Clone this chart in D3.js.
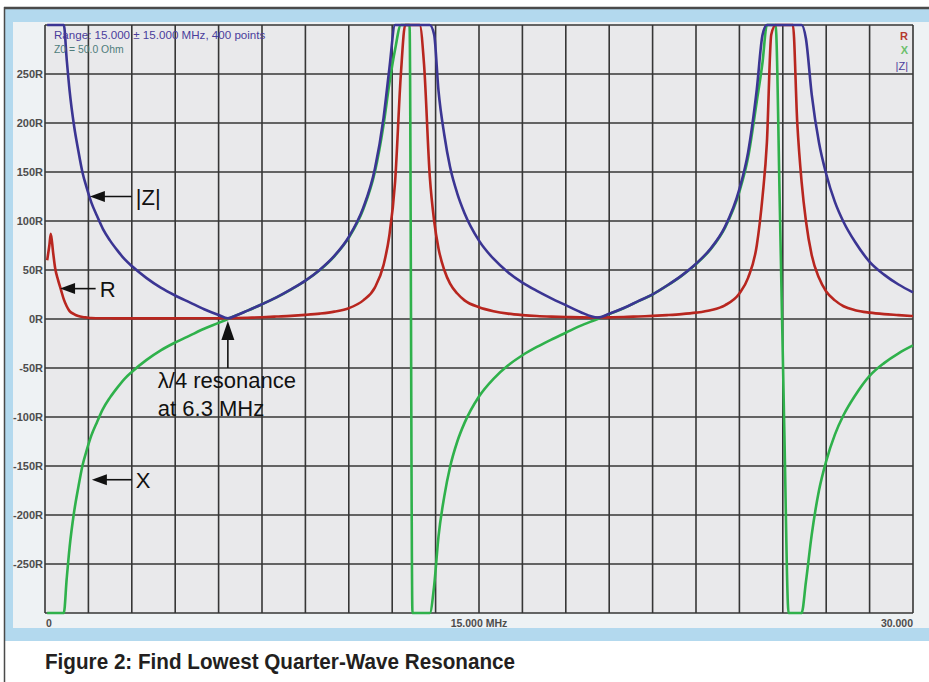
<!DOCTYPE html>
<html>
<head>
<meta charset="utf-8">
<script src="https://cdn.jsdelivr.net/npm/d3@7"></script>
<style>
  body { margin: 0; background: #fff; }
  svg { display: block; font-family: "Liberation Sans", Arial, sans-serif; }
</style>
</head>
<body>
<svg id="chart" width="929" height="682"></svg>
<script>
// sweep frequencies (MHz), denser around the resonances
const freqMHz = [
  0.075, 0.15, 0.2, 0.28, 0.35, 0.45, 0.55, 0.65, 0.75, 0.85,
  1.0, 1.15, 1.3, 1.45, 1.6, 1.8, 2.0, 2.25, 2.5, 2.75,
  3.0, 3.5, 4.0, 4.5, 5.0, 5.5, 6.0, 6.32, 6.6, 7.0,
  7.5, 8.0, 8.5, 9.0, 9.5, 10.0, 10.5, 11.0, 11.4, 11.7,
  11.9, 12.1, 12.3, 12.45, 12.6, 12.7, 12.8, 12.95, 13.1, 13.3,
  13.45, 13.6, 13.8, 14.0, 14.25, 14.5, 15.0, 15.5, 16.0, 16.5,
  17.0, 17.5, 18.0, 18.5, 19.1, 19.5, 20.0, 20.5, 21.0, 21.5,
  22.0, 22.5, 23.0, 23.5, 24.0, 24.3, 24.6, 24.8, 24.95, 25.1,
  25.25, 25.4, 25.55, 25.7, 25.85, 26.0, 26.15, 26.3, 26.5, 26.75,
  27.0, 27.3, 27.6, 28.0, 28.5, 29.0, 29.5, 30.0
];

// resistance R (ohm)
const rOhm = [
  60, 75, 87, 68, 52, 40, 30, 20, 13, 8,
  5, 3, 2, 1.5, 1, 0.8, 0.7, 0.7, 0.6, 0.6,
  0.6, 0.6, 0.6, 0.6, 0.7, 0.7, 0.8, 0.8, 1, 1.3,
  1.8, 2.5, 3.2, 4.2, 5.5, 7.5, 11, 19, 32, 55,
  85, 140, 250, 400, 560, 620, 570, 420, 260, 145,
  100, 72, 50, 36, 26, 19, 12, 8, 5.5, 4,
  3, 2.4, 2, 1.7, 1.5, 1.7, 2, 2.6, 3.2, 4,
  5, 6.5, 9, 14, 26, 42, 75, 125, 180, 290,
  420, 560, 560, 430, 300, 200, 140, 100, 65, 42,
  28, 19, 13, 9, 6.5, 5, 4, 3
];

// reactance X (ohm)
const xOhm = [
  -400, -400, -400, -400, -400, -400, -360, -306, -265, -233,
  -198, -172, -149, -133, -119, -105, -92, -80, -70, -61,
  -54, -42, -32, -24, -17, -10, -4, 0, 3.5, 8.5,
  15, 22, 30, 39, 50, 64, 83, 112, 150, 198,
  240, 275, 400, 400, 350, -350, -400, -400, -400, -330,
  -272, -222, -181, -151, -125, -106, -79, -61, -47.5, -37,
  -28.5, -21, -14, -7, 0, 5, 11, 18, 25, 34,
  44, 56, 71, 93, 130, 165, 222, 262, 320, 330,
  300, 110, -110, -300, -340, -360, -300, -268, -220, -175,
  -145, -118, -98, -78, -58, -45, -35, -27
];

// impedance magnitude |Z| (ohm)
const zOhm = [
  400, 400, 400, 400, 400, 400, 360, 307, 265, 233,
  198, 172, 149, 133, 119, 105, 92, 80, 70, 61,
  54, 42, 32, 24, 17, 10, 4.1, 0.8, 3.6, 8.6,
  15.1, 22.1, 30.2, 39.2, 50.3, 64.4, 83.7, 113.6, 153, 205,
  255, 308, 470, 560, 660, 710, 700, 580, 480, 360,
  290, 233, 188, 155, 128, 108, 80, 61.5, 47.8, 37.2,
  28.7, 21.1, 14.1, 7.2, 1.5, 5.3, 11.2, 18.2, 25.2, 34.2,
  44.3, 56.4, 71.6, 94, 132.6, 170, 234, 290, 367, 440,
  516, 570, 570, 524, 453, 412, 331, 286, 229, 180,
  148, 119.5, 99, 78.5, 58.4, 45.3, 35.2, 27.2
];

const yTicks = [250, 200, 150, 100, 50, 0, -50, -100, -150, -200, -250];
const xTickVals = [0, 15, 30];
const xTickText = ['0', '15.000 MHz', '30.000'];

const svg = d3.select('#chart');
const plot = { left: 45, right: 913, top: 25, bottom: 613 };

const x = d3.scaleLinear().domain([0, 30]).range([plot.left, plot.right]);
const y = d3.scaleLinear().domain([-300, 300]).range([plot.bottom, plot.top]).clamp(true);

// frame and window background
svg.append('rect').attr('x', 5).attr('y', 9).attr('width', 924).attr('height', 632).attr('fill', '#b3d9ee');
svg.append('rect').attr('x', 13).attr('y', 22).attr('width', 916).attr('height', 606).attr('fill', '#eef2f4');
svg.append('line').attr('x1', 4).attr('x2', 929).attr('y1', 8).attr('y2', 8).attr('stroke', '#4a4a4a').attr('stroke-width', 2.5);
svg.append('line').attr('x1', 4.5).attr('x2', 4.5).attr('y1', 7).attr('y2', 682).attr('stroke', '#4a4a4a').attr('stroke-width', 1.5);

svg.append('rect')
  .attr('x', plot.left).attr('y', plot.top)
  .attr('width', plot.right - plot.left).attr('height', plot.bottom - plot.top)
  .attr('fill', '#e9e9eb');

// grid
const grid = svg.append('g').attr('stroke', '#363636').attr('stroke-width', 1.6);
grid.selectAll('line.v')
  .data(d3.range(0, 30.001, 1.5))
  .enter().append('line')
  .attr('x1', d => x(d)).attr('x2', d => x(d))
  .attr('y1', plot.top).attr('y2', plot.bottom);
grid.selectAll('line.h')
  .data(d3.range(-300, 300.001, 50))
  .enter().append('line')
  .attr('x1', plot.left).attr('x2', plot.right)
  .attr('y1', d => y(d)).attr('y2', d => y(d));

// y labels
svg.append('g').selectAll('text')
  .data(yTicks)
  .enter().append('text')
  .attr('x', plot.left - 2).attr('y', d => y(d) + 4)
  .attr('text-anchor', 'end')
  .attr('font-size', 11).attr('font-weight', 'bold').attr('fill', '#4d4d4d')
  .text(d => d + 'R');

// x labels
svg.append('g').selectAll('text')
  .data(xTickVals)
  .enter().append('text')
  .attr('x', (d, i) => x(d) + (i === 0 ? 1 : 0)).attr('y', plot.bottom + 14)
  .attr('text-anchor', (d, i) => ['start', 'middle', 'end'][i])
  .attr('font-size', 10.5).attr('font-weight', 'bold').attr('fill', '#4d4d4d')
  .text((d, i) => xTickText[i]);

// curves
const series = [
  { vals: xOhm, color: '#2fb14b' },
  { vals: rOhm, color: '#b8261f' },
  { vals: zOhm, color: '#3b3593' }
];
const line = d3.line()
  .x(d => x(d[0]))
  .y(d => y(d[1]))
  .curve(d3.curveMonotoneX);

svg.append('g').selectAll('path')
  .data(series)
  .enter().append('path')
  .attr('d', s => line(freqMHz.map((f, i) => [f, s.vals[i]])))
  .attr('fill', 'none')
  .attr('stroke', s => s.color)
  .attr('stroke-width', 2.6)
  .attr('stroke-linejoin', 'round');

// analyser legend
const legend = svg.append('g');
legend.append('text').attr('x', 54).attr('y', 39).attr('font-size', 11.6).attr('fill', '#4a3d9c').text('Range: 15.000 \u00b1 15.000 MHz, 400 points');
legend.append('text').attr('x', 54).attr('y', 53).attr('font-size', 10.4).attr('fill', '#4f7d7b').text('Z0 = 50.0 Ohm');
legend.append('text').attr('x', 908).attr('y', 40).attr('text-anchor', 'end').attr('font-size', 11).attr('fill', '#b5392e').attr('font-weight', 'bold').text('R');
legend.append('text').attr('x', 908).attr('y', 54).attr('text-anchor', 'end').attr('font-size', 11).attr('fill', '#6cc06c').attr('font-weight', 'bold').text('X');
legend.append('text').attr('x', 908).attr('y', 70).attr('text-anchor', 'end').attr('font-size', 11).attr('fill', '#4a3d9c').text('|Z|');

// annotations
const notes = [
  { label: '|Z|', tip: [1.55, 125], tail: [3.0, 125] },
  { label: 'R', tip: [0.52, 31], tail: [1.75, 31] },
  { label: 'X', tip: [1.62, -164], tail: [3.0, -164] }
];
const ann = svg.append('g').attr('fill', '#111').attr('stroke', '#111');
notes.forEach(n => {
  const tx = x(n.tip[0]), ty = y(n.tip[1]), ex = x(n.tail[0]);
  ann.append('line').attr('x1', tx + 10).attr('x2', ex).attr('y1', ty).attr('y2', ty).attr('stroke-width', 1.6);
  ann.append('path').attr('stroke', 'none')
    .attr('d', `M${tx},${ty} L${tx + 15},${ty - 5.5} L${tx + 15},${ty + 5.5} Z`);
  ann.append('text').attr('stroke', 'none')
    .attr('x', ex + 4).attr('y', ty + 8)
    .attr('font-size', 22).text(n.label);
});

// resonance arrow
const rx = x(6.32), ry = y(0);
ann.append('line').attr('x1', rx).attr('x2', rx).attr('y1', ry + 12).attr('y2', y(-50)).attr('stroke-width', 1.6);
ann.append('path').attr('stroke', 'none')
  .attr('d', `M${rx},${ry + 2} L${rx - 6.5},${ry + 21} L${rx + 6.5},${ry + 21} Z`);
ann.append('text').attr('stroke', 'none').attr('x', x(3.9)).attr('y', y(-70)).attr('font-size', 22).text('\u03bb/4 resonance');
ann.append('text').attr('stroke', 'none').attr('x', x(3.9)).attr('y', y(-99)).attr('font-size', 22).text('at 6.3 MHz');

// caption
svg.append('text')
  .attr('x', 45).attr('y', 669)
  .attr('font-size', 22).attr('font-weight', 'bold').attr('fill', '#231f20')
  .attr('textLength', 470).attr('lengthAdjust', 'spacingAndGlyphs')
  .text('Figure 2: Find Lowest Quarter-Wave Resonance');
</script>
</body>
</html>
